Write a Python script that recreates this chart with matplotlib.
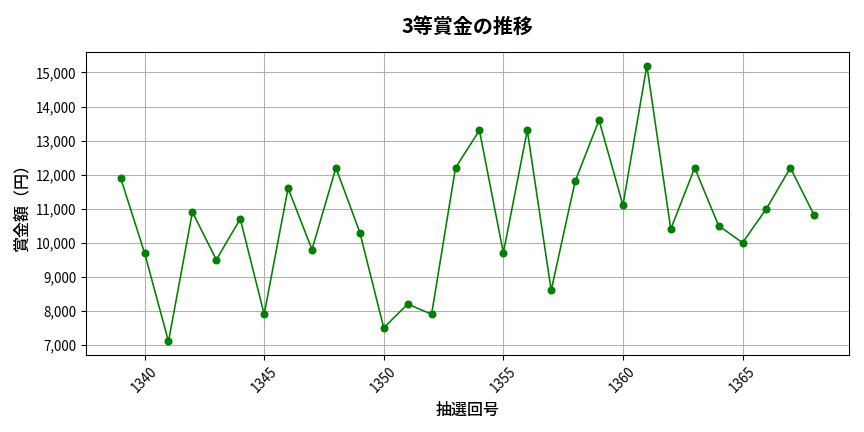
import matplotlib
matplotlib.use("Agg")
import matplotlib.pyplot as plt
from matplotlib.ticker import FuncFormatter

plt.rcParams['font.family'] = ['Noto Sans CJK JP', 'DejaVu Sans']

# 抽選回号と3等賞金 (picture read)
draws = list(range(1339, 1369))
prize = [11900, 9700, 7100, 10900, 9500, 10700, 7900, 11600, 9800, 12200,
         10300, 7500, 8200, 7900, 12200, 13300, 9700, 13300, 8600, 11800,
         13600, 11100, 15200, 10400, 12200, 10500, 10000, 11000, 12200, 10800]

title = "3等賞金の推移"
xlabel = "抽選回号"
ylabel = "賞金額（円）"

fig, ax = plt.subplots(figsize=(9, 4.5), dpi=96)
fig.subplots_adjust(left=0.0995, right=0.9826, top=0.8796, bottom=0.178)

ax.plot(draws, prize, color="green", marker="o", markersize=5, linewidth=1.2)

ax.set_title(title, fontsize=15, fontweight="bold", pad=14)
ax.set_xlabel(xlabel, fontsize=12, fontweight="medium", labelpad=5)
ax.set_ylabel(ylabel, fontsize=12, fontweight="medium")
ax.yaxis.set_major_formatter(FuncFormatter(lambda v, p: f"{int(v):,}"))
ax.set_ylim(6700, 15600)
ax.grid(True, color="#b0b0b0", linewidth=0.8)
ax.tick_params(axis="x", labelrotation=45, labelsize=10)
ax.tick_params(axis="y", labelsize=10)

fig.savefig("out.png")
